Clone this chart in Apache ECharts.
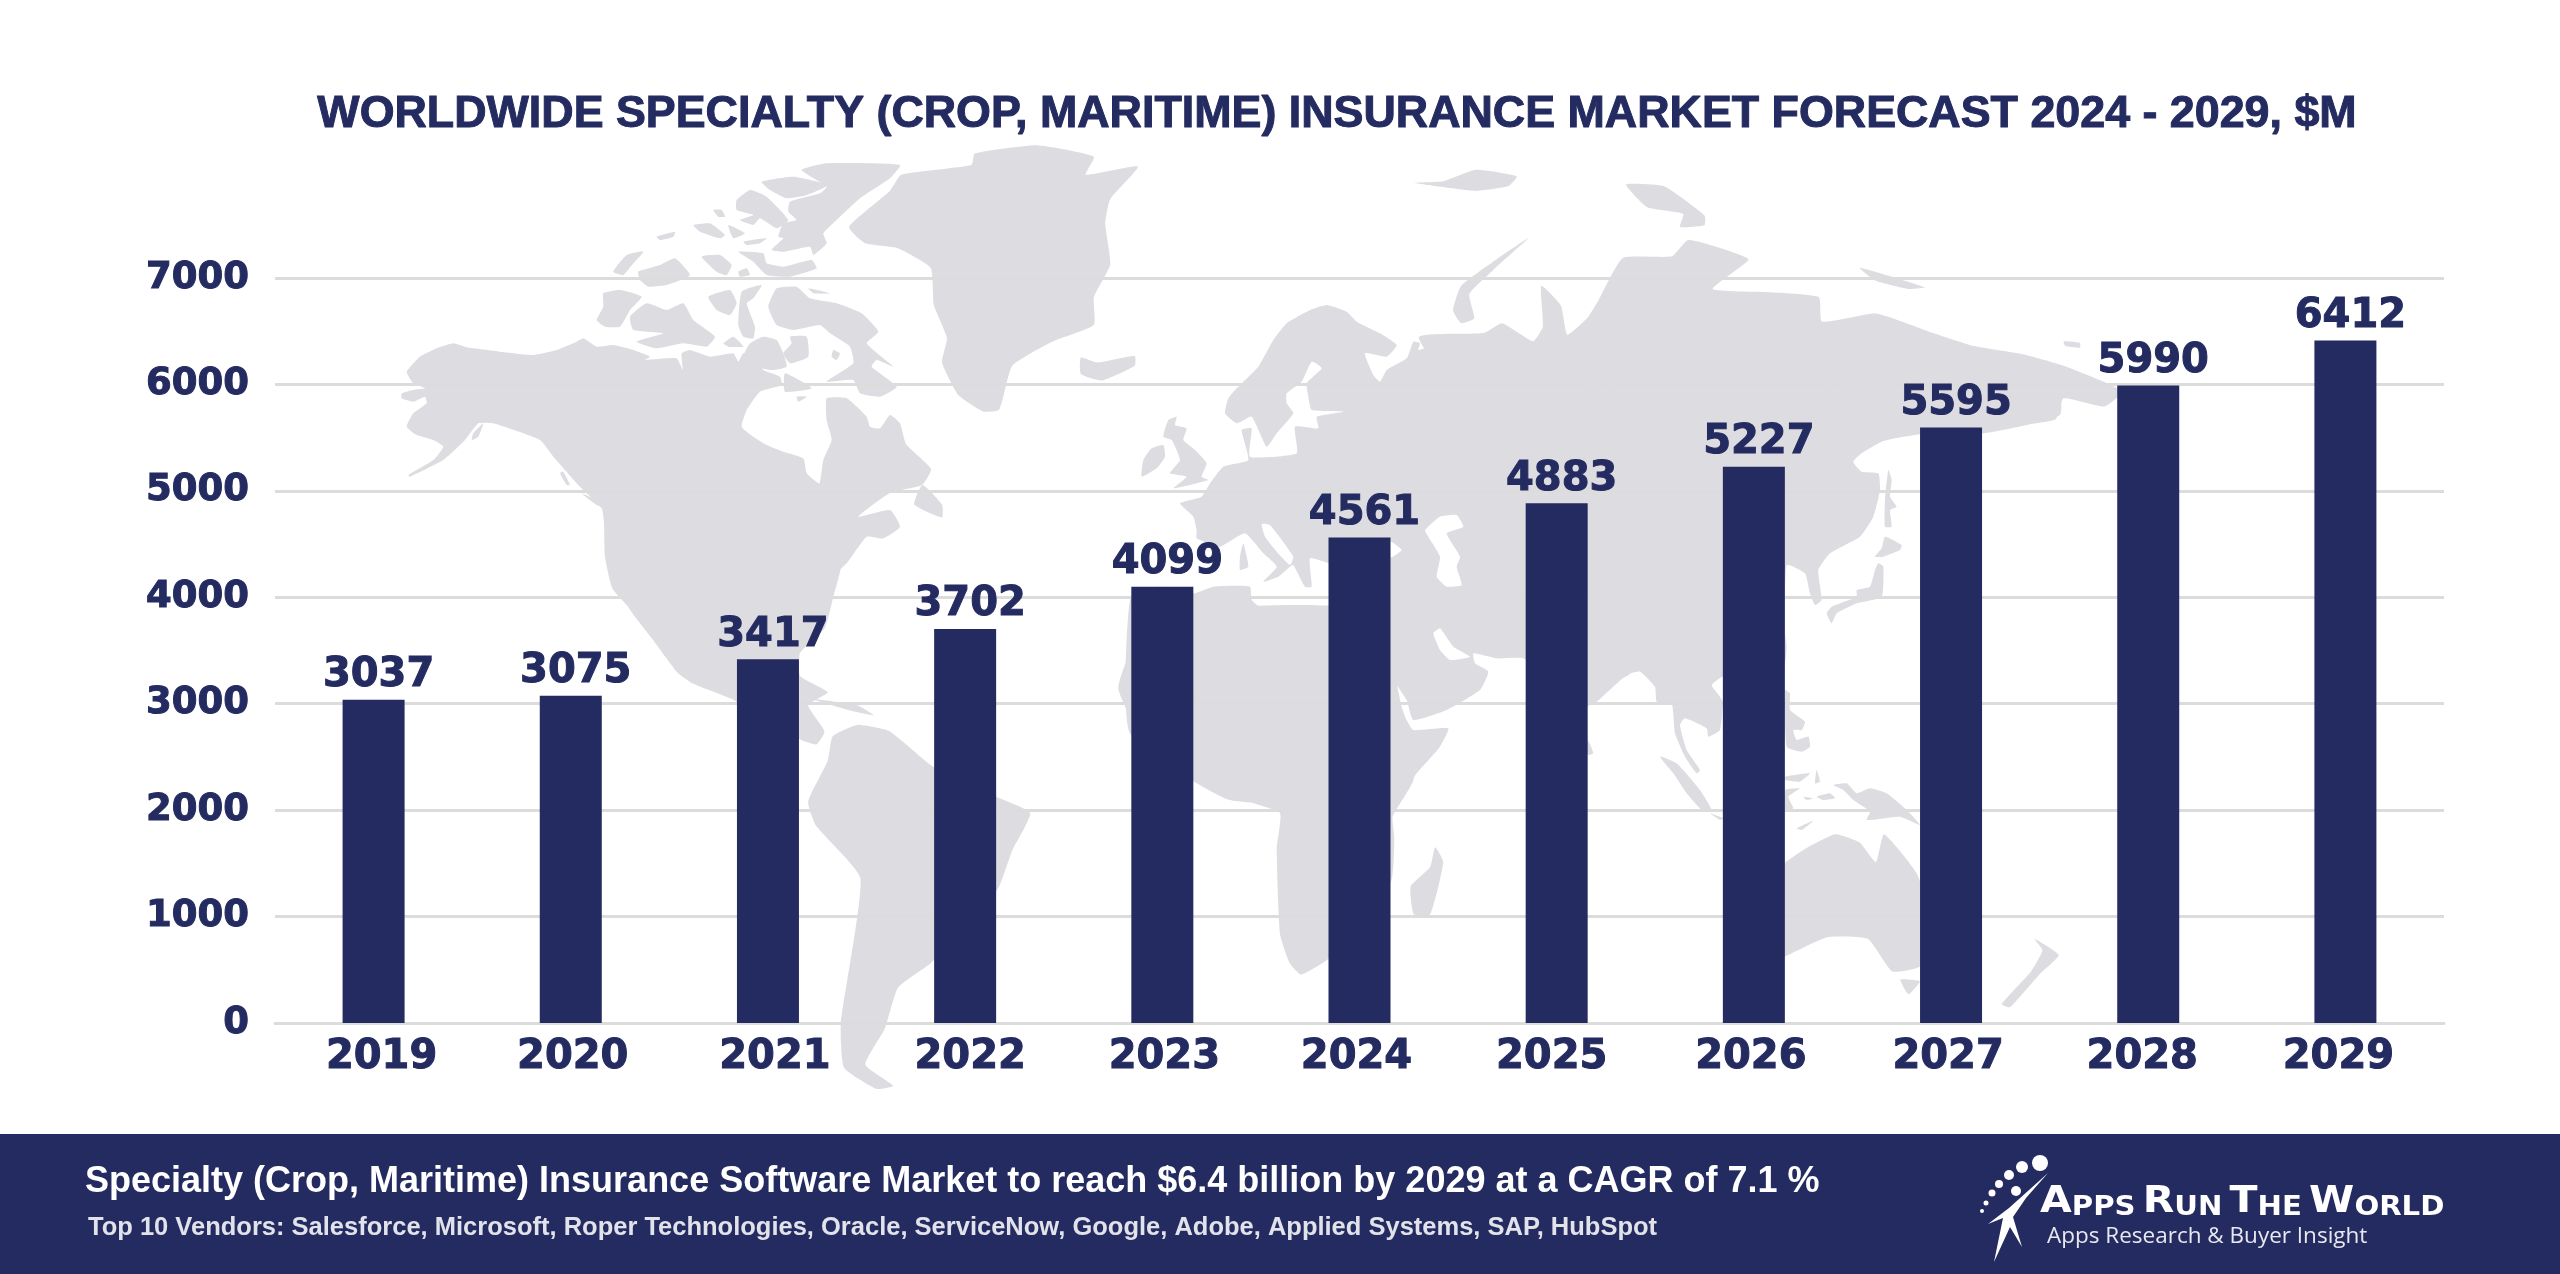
<!DOCTYPE html>
<html>
<head>
<meta charset="utf-8">
<style>html,body{margin:0;padding:0;background:#fff}#main{width:2560px;height:1274px}</style>
<script src="https://cdn.jsdelivr.net/npm/echarts@6/dist/echarts.min.js"></script>
</head>
<body>
<div id="main"></div>
<script>
var years = ['2019', '2020', '2021', '2022', '2023', '2024', '2025', '2026', '2027', '2028', '2029'];
var marketValues = [3037, 3075, 3417, 3702, 4099, 4561, 4883, 5227, 5595, 5990, 6412];
var yTicks = [0, 1000, 2000, 3000, 4000, 5000, 6000, 7000];
var titleText = 'WORLDWIDE SPECIALTY (CROP, MARITIME) INSURANCE MARKET FORECAST 2024 - 2029, $M';
var footerMain = 'Specialty (Crop, Maritime) Insurance Software Market to reach $6.4 billion by 2029 at a CAGR of 7.1 %';
var footerVendors = 'Top 10 Vendors: Salesforce, Microsoft, Roper Technologies, Oracle, ServiceNow, Google, Adobe, Applied Systems, SAP, HubSpot';

// year labels sit a little off the bars in the original
var yearLabelShift = [8, 2, 7, 5, 2, -3, -5, -3, -3, -6, -7];

var NAVY = '#242b60';
var MAP_GREY = '#dddce0';
var BOLD_FONT = '"DejaVu Sans"';

// backdrop world map outlines, overlapping pieces of one flat colour
// traced on a 1568 wide copy of the picture
var mapWide = [
  // mexico and central america
  [[375,340],[515,340],[510,367],[505,385],[490,400],[490,414],[507,424],[495,432],[505,448],[500,456],[488,452],[450,429],[425,419],[415,412],[400,392],[385,372]],
  [[497,428],[525,432],[535,438],[520,435]],
  [[565,297],[577,309],[577,317],[560,309]],
  // greenland, iceland, britain
  [[597,94],[635,89],[670,96],[665,107],[697,102],[680,122],[677,137],[680,162],[670,182],[670,199],[645,209],[620,224],[612,251],[602,252],[587,242],[577,222],[580,207],[572,187],[570,164],[550,152],[530,149],[520,139],[545,117],[552,107],[595,101]],
  [[662,219],[672,222],[695,218],[695,224],[675,233],[662,229]],
  // south america
  [[510,451],[525,444],[545,448],[572,470],[610,488],[631,498],[620,521],[612,543],[600,560],[570,590],[550,605],[542,630],[530,652],[547,665],[537,667],[517,654],[515,627],[527,538],[500,506],[495,491],[507,466]],
  // africa below the sahara, madagascar
  [[710,375],[840,375],[866,476],[853,500],[854,513],[852,540],[814,587],[797,597],[790,590],[784,572],[782,520],[784,498],[764,490],[764,472],[749,461],[731,464],[700,452],[685,422],[692,400]],
  [[879,519],[884,528],[876,560],[866,560],[864,543],[876,531]],
  // siberia
  [[869,207],[909,204],[920,198],[939,209],[945,200],[944,175],[956,187],[960,205],[972,195],[979,184],[994,158],[1024,157],[1034,147],[1054,152],[1071,159],[1049,177],[1084,179],[1114,182],[1116,197],[1149,192],[1184,204],[1209,212],[1239,217],[1264,224],[1289,234],[1300,240],[1289,249],[1264,244],[1259,257],[1224,262],[1199,263],[1154,270],[1100,300],[940,300]],
  [[936,146],[915,160],[895,175],[890,190],[895,198],[903,195],[900,180],[915,165]],
  [[1139,164],[1179,176],[1169,177],[1149,172]],
  [[1264,209],[1274,210],[1274,213],[1265,212]],
  [[996,113],[1019,114],[1044,132],[1044,138],[1029,139],[1031,131],[1009,127]],
  [[866,112],[884,111],[904,104],[929,108],[924,114],[904,117],[879,114]],
  // australia, tasmania, new zealand
  [[1080,540],[1104,521],[1124,511],[1139,516],[1149,528],[1154,511],[1174,535],[1185,570],[1176,592],[1159,595],[1144,575],[1119,574],[1080,590]],
  [[1164,600],[1176,601],[1169,609]],
  [[1246,575],[1261,585],[1249,597],[1231,617],[1226,615],[1244,595],[1251,582]]
];

// the next three are traced on 3x crops, origin of the crop given with them
var northAmericaOrigin = [400, 140];
var mapNorthAmerica = [
  // mainland
  [[20,695],[60,650],[110,625],[160,610],[200,622],[300,635],[400,645],[470,630],[530,605],[550,595],[590,620],[640,615],[700,630],[750,650],[735,660],[830,655],[848,690],[845,640],[870,630],[930,650],[1000,640],[1015,665],[1030,640],[1060,650],[1090,690],[1140,710],[1145,735],[1080,755],[1040,810],[1025,860],[1060,890],[1100,915],[1150,935],[1210,955],[1220,1000],[1258,1030],[1270,960],[1295,900],[1280,840],[1280,775],[1340,775],[1400,830],[1410,860],[1440,865],[1470,825],[1500,850],[1518,912],[1593,987],[1566,1035],[1470,1059],[1375,1130],[1470,1110],[1500,1160],[1450,1195],[1400,1190],[1340,1270],[1310,1300],[1300,1370],[1270,1420],[1100,1500],[800,1500],[640,1350],[615,1250],[612,1150],[605,1105],[540,1040],[460,950],[420,900],[280,850],[235,850],[195,900],[130,960],[30,1010],[25,1005],[100,960],[130,920],[100,900],[50,885],[20,860],[40,820],[80,790],[75,770],[40,785],[5,775],[5,760],[40,750],[75,745],[40,730]],
  [[480,1000],[490,995],[510,1035],[500,1035]],
  [[545,1060],[600,1085],[635,1110],[590,1095]],
  [[220,880],[250,850],[235,890],[215,900]],
  // arctic islands
  [[1205,90],[1280,70],[1500,75],[1470,115],[1380,175],[1310,240],[1270,280],[1280,310],[1240,345],[1230,320],[1150,335],[1115,330],[1150,295],[1135,290],[1150,250],[1190,240],[1165,215],[1170,185],[1260,160],[1280,140]],
  [[1085,125],[1180,110],[1285,135],[1220,165],[1160,175],[1110,150]],
  [[1010,180],[1050,150],[1100,170],[1165,240],[1130,265],[1080,235],[1060,255],[1020,240],[1060,225],[1010,210]],
  [[940,210],[965,210],[975,230],[955,230]],
  [[880,255],[930,250],[975,285],[960,295],[900,275]],
  [[985,255],[1035,280],[1000,295]],
  [[770,290],[825,275],[820,290],[780,300]],
  [[1030,305],[1100,295],[1080,310],[1040,315]],
  [[1015,335],[1090,340],[1100,370],[1150,380],[1235,360],[1250,385],[1170,410],[1100,405],[1060,365]],
  [[640,395],[680,345],[730,335],[700,370],[670,405]],
  [[715,395],[780,375],[825,355],[870,405],[800,435],[745,440],[720,420]],
  [[905,350],[960,345],[995,375],[980,405],[950,395]],
  [[1015,395],[1040,385],[1050,405],[1020,410]],
  [[610,460],[660,450],[725,470],[690,510],[660,560],[615,560],[590,540],[610,500]],
  [[690,530],[740,490],[800,510],[850,490],[880,540],[945,590],[920,620],[850,610],[770,625],[710,605],[790,580],[700,570]],
  [[925,470],[990,450],[1010,490],[990,525],[950,510]],
  [[1025,455],[1085,435],[1060,475],[1040,490],[1065,560],[1060,595],[1030,590],[1015,555]],
  [[970,610],[1000,590],[1030,620],[985,620]],
  [[1030,650],[1050,610],[1090,590],[1130,600],[1150,640],[1160,680],[1120,690],[1060,680]],
  [[1170,590],[1220,590],[1225,650],[1170,670],[1150,640],[1175,610]],
  // baffin wraps round the white basin
  [[1105,500],[1130,445],[1190,440],[1230,475],[1310,490],[1385,520],[1435,575],[1400,610],[1480,680],[1430,660],[1415,680],[1490,740],[1440,770],[1380,760],[1360,720],[1280,725],[1360,670],[1350,620],[1290,580],[1260,555],[1180,570],[1130,555]],
  [[1300,630],[1320,640],[1310,660],[1295,650]],
  [[1155,700],[1235,745],[1155,755]],
  [[1225,445],[1290,460],[1240,460]],
  [[1190,770],[1220,770],[1195,785]]
];

var europeOrigin = [1130, 300];
var mapEurope = [
  // europe and west asia
  [[285,340],[295,295],[320,265],[385,200],[430,120],[470,70],[540,30],[590,15],[650,35],[680,65],[750,100],[800,135],[770,170],[705,160],[730,225],[750,245],[770,210],[830,175],[850,125],[870,130],[865,150],[950,125],[1060,100],[1095,95],[1200,130],[1500,100],[1500,1120],[1440,1150],[1380,1210],[1180,1075],[1100,1075],[1030,1060],[1035,1090],[1075,1115],[1050,1170],[950,1230],[850,1260],[830,1200],[783,1130],[700,1000],[650,800],[597,790],[540,775],[545,860],[525,860],[490,795],[480,800],[445,830],[400,845],[440,800],[400,760],[345,700],[270,740],[200,715],[200,690],[190,650],[150,610],[215,590],[240,550],[280,500],[355,480],[335,390],[365,385],[360,470],[500,460],[495,380],[565,385],[560,350],[640,335],[545,330],[535,290],[530,250],[575,205],[545,185],[515,245],[470,280],[470,310],[490,340],[440,400],[410,440],[365,350],[320,370]],
  // north african coast
  [[0,900],[85,860],[190,880],[250,860],[360,860],[365,900],[420,945],[490,975],[510,945],[595,965],[700,960],[783,1140],[830,1260],[850,1290],[955,1285],[930,1340],[860,1420],[800,1500],[300,1500],[0,1300]],
  // sardinia, britain, ireland
  [[340,730],[350,770],[355,800],[330,810],[330,770]],
  [[115,360],[140,350],[135,375],[170,385],[160,420],[195,450],[230,490],[215,530],[235,540],[130,565],[170,530],[120,520],[150,480],[125,420],[100,410]],
  [[65,445],[100,435],[105,470],[80,505],[35,530],[40,480]]
];
var mapEuropeWater = [
  // adriatic, caspian, persian gulf, black sea
  [[395,672],[420,675],[490,770],[480,795],[440,755],[405,710]],
  [[885,690],[930,650],[980,645],[1000,680],[950,700],[990,770],[980,800],[995,855],[950,860],[920,830],[930,770],[895,710]],
  [[910,1000],[930,985],[970,1040],[1020,1070],[960,1080],[930,1050]],
  [[783,725],[815,750],[783,772],[700,770],[700,730]],
  [[910,85],[945,80],[930,95]]
];

var eastAsiaOrigin = [1560, 400];
var mapEastAsia = [
  // china down to indochina
  [[0,0],[1500,0],[1500,45],[1400,75],[1268,100],[1170,85],[1080,85],[1000,90],[940,130],[880,185],[905,215],[955,220],[960,270],[940,350],[900,410],[810,460],[775,510],[785,600],[765,615],[750,580],[735,520],[680,495],[675,700],[680,740],[672,800],[600,840],[488,830],[455,855],[480,890],[488,905],[480,990],[445,1010],[440,985],[375,955],[360,975],[380,1050],[420,1110],[410,1120],[375,1070],[345,1000],[335,910],[290,905],[285,860],[240,815],[200,825],[110,905],[60,930],[0,1000]],
  [[83,1020],[100,1060],[85,1065],[70,1040]],
  // sakhalin and japan
  [[985,210],[995,240],[990,290],[1010,320],[990,330],[995,380],[975,380],[975,300]],
  [[975,410],[1025,435],[1020,450],[970,470],[945,470],[965,445]],
  [[955,490],[970,500],[965,590],[890,610],[830,640],[815,670],[800,640],[815,620],[890,590],[890,570],[930,560],[945,510]],
  // philippines and indonesia
  [[675,870],[690,880],[690,930],[735,965],[725,990],[700,990],[710,1020],[745,1010],[750,1040],[725,1055],[680,1040]],
  [[300,1070],[350,1090],[420,1170],[455,1230],[430,1235],[380,1180],[340,1120]],
  [[450,1240],[490,1255],[480,1260]],
  [[675,1130],[750,1120],[720,1145],[675,1140]],
  [[770,1110],[780,1145],[765,1150]],
  [[675,1170],[720,1165],[685,1190],[700,1225],[675,1230]],
  [[730,1190],[760,1195],[740,1200]],
  [[770,1190],[810,1180],[825,1195],[790,1200]],
  [[820,1155],[860,1150],[890,1180],[930,1165],[980,1180],[1040,1230],[1080,1275],[1020,1250],[920,1260],[930,1235],[880,1200],[850,1170]],
  [[710,1285],[760,1262],[725,1290]]
];

function fromWide(points) {
  return points.map(function (p) { return [p[0] * 2560 / 1568, p[1] * 2560 / 1568]; });
}
function fromCrop(origin) {
  return function (points) {
    return points.map(function (p) { return [origin[0] + p[0] / 3, origin[1] + p[1] / 3]; });
  };
}

var graphics = [];
function addShapes(list, convert, fill, z) {
  list.forEach(function (pts) {
    graphics.push({ type: 'polygon', silent: true, z: z, shape: { points: convert(pts), smooth: 0.15 }, style: { fill: fill } });
  });
}
addShapes(mapWide, fromWide, MAP_GREY, -10);
addShapes(mapNorthAmerica, fromCrop(northAmericaOrigin), MAP_GREY, -10);
addShapes(mapEurope, fromCrop(europeOrigin), MAP_GREY, -10);
addShapes(mapEastAsia, fromCrop(eastAsiaOrigin), MAP_GREY, -10);
addShapes(mapEuropeWater, fromCrop(europeOrigin), '#fff', -9);

// footer band
graphics.push({ type: 'rect', silent: true, z: 1, shape: { x: 0, y: 1134, width: 2560, height: 140 }, style: { fill: NAVY } });
graphics.push({ type: 'text', silent: true, z: 2, x: 85, y: 1200, style: { text: footerMain, fill: '#fff', font: 'bold 36px "Liberation Sans"', textVerticalAlign: 'bottom' } });
graphics.push({ type: 'text', silent: true, z: 2, x: 88, y: 1241, style: { text: footerVendors, fill: '#e2e2ea', font: 'bold 25.5px "Liberation Sans"', textVerticalAlign: 'bottom' } });

// logo
[[2040, 1163, 8], [2022, 1167, 6], [2009, 1175, 5], [1999, 1184, 4], [1992, 1193, 3.5], [1986, 1203, 2.5], [1982, 1211, 2], [2016, 1191, 5]].forEach(function (c) {
  graphics.push({ type: 'circle', silent: true, z: 2, shape: { cx: c[0], cy: c[1], r: c[2] }, style: { fill: '#fff' } });
});
graphics.push({ type: 'polygon', silent: true, z: 2, shape: { points: [[2048, 1173], [2026, 1198], [2013, 1217], [2022, 1247], [2010, 1227], [1994, 1262], [2003, 1218], [1988, 1224], [2009, 1208]] }, style: { fill: '#fff' } });
graphics.push({
  type: 'text', silent: true, z: 2, x: 2040, y: 1181, scaleX: 1.08,
  style: {
    text: '{a|A}{b|PPS}  {a|R}{b|UN}  {a|T}{b|HE}  {a|W}{b|ORLD}',
    fill: '#fff',
    rich: {
      a: { font: 'bold 38px "DejaVu Sans"', fill: '#fff', lineHeight: 40, verticalAlign: 'bottom' },
      b: { font: 'bold 27px "DejaVu Sans"', fill: '#fff', lineHeight: 40, verticalAlign: 'bottom' }
    }
  }
});
graphics.push({ type: 'text', silent: true, z: 2, x: 2047, y: 1248, style: { text: 'Apps Research & Buyer Insight', fill: '#e8e8ef', font: '22.5px "Open Sans"', textVerticalAlign: 'bottom' } });

var chart = echarts.init(document.getElementById('main'), null, { renderer: 'canvas' });
chart.setOption({
  animation: false,
  backgroundColor: '#fff',
  title: {
    text: titleText,
    left: 1332,
    textAlign: 'center',
    top: 87,
    textStyle: { color: NAVY, fontFamily: 'Liberation Sans', fontWeight: 'bold', fontSize: 44.8, textBorderColor: NAVY, textBorderWidth: 1 }
  },
  grid: { left: 275, right: 116, top: 278, bottom: 251 },
  xAxis: {
    type: 'category',
    data: years.map(function (y, i) {
      var s = yearLabelShift[i];
      return { value: y, textStyle: { padding: s > 0 ? [0, 0, 0, 2 * s] : [0, 2 * -s, 0, 0] } };
    }),
    axisLine: { lineStyle: { color: '#dcdcdc', width: 3 } },
    axisTick: { show: false },
    axisLabel: { color: NAVY, fontFamily: BOLD_FONT, fontWeight: 'bold', fontSize: 40, margin: 15, interval: 0, textBorderColor: NAVY, textBorderWidth: 1 }
  },
  yAxis: {
    type: 'value',
    min: yTicks[0],
    max: yTicks[yTicks.length - 1],
    interval: 1000,
    axisLine: { show: false },
    axisTick: { show: false },
    axisLabel: {
      color: NAVY, fontFamily: BOLD_FONT, fontWeight: 'bold', fontSize: 37, margin: 26,
      textBorderColor: NAVY, textBorderWidth: 1,
      formatter: function (v) { return String(v); }
    },
    splitLine: { lineStyle: { color: '#dcdcdc', width: 3 } }
  },
  series: [{
    type: 'bar',
    data: marketValues,
    barWidth: 62,
    itemStyle: { color: NAVY },
    label: {
      show: true,
      position: 'top',
      distance: 4,
      offset: [5, 0],
      color: NAVY,
      fontFamily: BOLD_FONT,
      fontWeight: 'bold',
      fontSize: 40,
      textBorderColor: NAVY,
      textBorderWidth: 1
    }
  }],
  graphic: { elements: graphics }
});
</script>
</body>
</html>
